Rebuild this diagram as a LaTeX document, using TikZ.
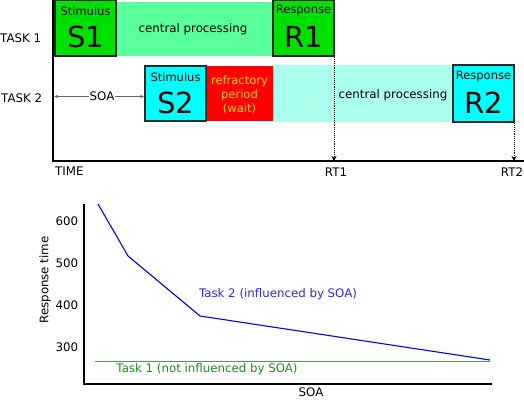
\documentclass[tikz,border=0pt]{standalone}
\usepackage{fontspec}
\setmainfont{DejaVu Sans}
\usetikzlibrary{arrows.meta}
\definecolor{sgreen}{RGB}{0,224,0}
\definecolor{cpgreen}{RGB}{88,255,155}
\definecolor{scyan}{RGB}{0,255,255}
\definecolor{cpcyan}{RGB}{170,255,236}
\definecolor{rgold}{RGB}{255,210,0}
\definecolor{bordergray}{RGB}{40,40,40}
\definecolor{tblue}{RGB}{40,40,255}
\definecolor{tgreen}{RGB}{30,140,30}
\definecolor{lgreen}{RGB}{70,160,70}
\begin{document}
\begin{tikzpicture}[x=1pt,y=-1pt,
  font=\fontsize{11.8}{13}\selectfont,
  evbox/.style={draw=bordergray,line width=1.2pt,inner sep=0pt},
  big/.style={font=\fontsize{29}{32}\selectfont},
  axis/.style={line width=1.5pt,black},
  dotarrow/.style={densely dotted,line width=0.9pt,-{Stealth[length=5pt,width=5pt]}},
  lbl/.style={inner sep=0pt,font=\fontsize{11.8}{13}\selectfont}]
\useasboundingbox (0,0) rectangle (524,399);
% bands
\fill[cpgreen] (116,2) rectangle (273,56);
\fill[cpcyan] (273,65) rectangle (453,122);
\fill[red] (206,66) rectangle (273,121);
\node[lbl] (cp1) at (193,29) {central processing};
\node[lbl] (cp2) at (393,95) {central processing};
\node[lbl,text=rgold,align=center,font=\fontsize{11.5}{14}\selectfont] (refr) at (239.5,95) {refractory\\period\\(wait)};
% boxes
\draw[evbox,fill=sgreen] (55,0) rectangle (116,56);
\node[lbl,font=\fontsize{11.5}{13}\selectfont] (s1t) at (85.5,11) {Stimulus};
\node[lbl,big] (s1) at (85.5,37) {S1};
\draw[evbox,fill=sgreen] (273,0) rectangle (334,56);
\node[lbl,font=\fontsize{11.5}{13}\selectfont] (r1t) at (303.5,11) {Response};
\node[lbl,big] (r1) at (303.5,37) {R1};
\draw[evbox,fill=scyan] (145,66) rectangle (206,121);
\node[lbl,font=\fontsize{11.5}{13}\selectfont] (s2t) at (175.5,77) {Stimulus};
\node[lbl,big] (s2) at (175.5,103) {S2};
\draw[evbox,fill=scyan] (453,65) rectangle (514,122);
\node[lbl,font=\fontsize{11.5}{13}\selectfont] (r2t) at (483.5,77) {Response};
\node[lbl,big] (r2) at (483.5,103) {R2};
% axes
\coordinate (ot) at (53,0);
\coordinate (o) at (53,161);
\coordinate (xe) at (524,161);
\draw[axis] (ot) -- (o) -- (xe);
\coordinate (rt1a) at (334,57);
\coordinate (rt1b) at (334,161);
\coordinate (rt2a) at (514,123);
\coordinate (rt2b) at (514,161);
\draw[dotarrow] (rt1a) -- (rt1b);
\draw[dotarrow] (rt2a) -- (rt2b);
\node[lbl,anchor=west] (t1) at (0,38) {TASK 1};
\node[lbl,anchor=west] (t2) at (1,98) {TASK 2};
\node[lbl,anchor=west] (time) at (55,171) {TIME};
\node[lbl] (rt1) at (336,172) {RT1};
\node[lbl] (rt2) at (512,172) {RT2};
% SOA arrow
\node[lbl] (soa) at (102,96.5) {SOA};
\coordinate (soal) at (54,96.5);
\coordinate (soar) at (144,96.5);
\draw[gray!80!black,line width=0.8pt,-{Stealth[length=4pt,width=3.5pt]}] (soa.west) -- (soal);
\draw[gray!80!black,line width=0.8pt,-{Stealth[length=4pt,width=3.5pt]}] (soa.east) -- (soar);
% bottom plot
\coordinate (py) at (84,204);
\coordinate (po) at (84,384);
\coordinate (px) at (492,384);
\draw[axis] (py) -- (po) -- (px);
\node[lbl] (y600) at (67,221) {600};
\node[lbl] (y500) at (67,263) {500};
\node[lbl] (y400) at (67,305) {400};
\node[lbl] (y300) at (67,347) {300};
\node[lbl,rotate=90] (ylab) at (45,280) {Response time};
\node[lbl] (xlab) at (311,392.5) {SOA};
\coordinate (g1) at (95,361);
\coordinate (g2) at (490,361);
\draw[lgreen,line width=0.8pt] (g1) -- (g2);
\coordinate (b1) at (98,204);
\coordinate (b2) at (128,256);
\coordinate (b3) at (200,316);
\coordinate (b4) at (490,360);
\draw[blue,line width=1.1pt] (b1) -- (b2) -- (b3) -- (b4);
\node[lbl,text=tblue] (task2) at (278,294) {Task 2 (influenced by SOA)};
\node[lbl,text=tgreen] (task1) at (207,369) {Task 1 (not influenced by SOA)};
\end{tikzpicture}
\end{document}
